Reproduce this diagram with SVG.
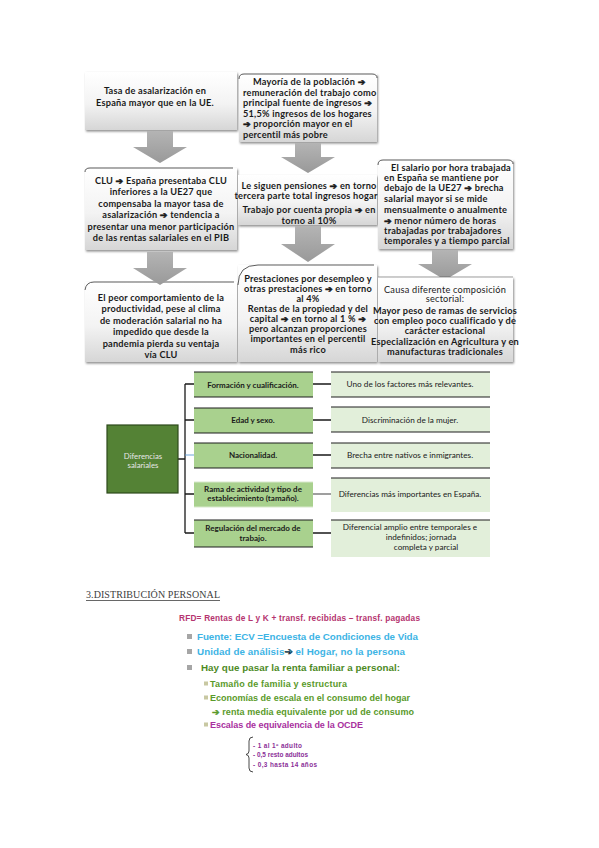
<svg xmlns="http://www.w3.org/2000/svg" width="599" height="848" viewBox="0 0 599 848">
<style>
.t{font-family:Lato,"Liberation Sans","DejaVu Sans",sans-serif;font-weight:700;font-size:9.2px;letter-spacing:0.22px;fill:#1a1a1a}
.c{text-anchor:middle}
.n{font-weight:400}
.a{font-family:"DejaVu Sans",sans-serif;font-weight:700;stroke:currentColor;stroke-width:0.5}
.t .a{stroke:#1a1a1a}
.box{fill:url(#g1);filter:url(#sh)}
.top{fill:none;stroke:#4a4a4a;stroke-width:0.9}
.arr{fill:url(#g2)}
.l2{fill:#a9d18e}
.l3{fill:#e2efda}
.bd{stroke:#1f1f1f;stroke-width:1.2}
.cn{stroke:#1a1a1a;stroke-width:1.3;fill:none}
.s2{font-family:Lato,"Liberation Sans","DejaVu Sans",sans-serif;font-weight:700;font-size:8px;fill:#1a1a1a;text-anchor:middle}
.s3{font-family:Lato,"Liberation Sans","DejaVu Sans",sans-serif;font-weight:400;font-size:8.2px;fill:#1a1a1a;text-anchor:middle}
.p{font-family:"Liberation Sans","DejaVu Sans",sans-serif;font-weight:700}
</style>
<defs>
<linearGradient id="g1" x1="0" y1="0" x2="0" y2="1">
<stop offset="0" stop-color="#ffffff"/>
<stop offset="0.55" stop-color="#f3f3f3"/>
<stop offset="1" stop-color="#d6d6d6"/>
</linearGradient>
<linearGradient id="g2" x1="0" y1="0" x2="0" y2="1">
<stop offset="0" stop-color="#b4b4b4"/>
<stop offset="1" stop-color="#999999"/>
</linearGradient>
<filter id="sh" x="-10%" y="-10%" width="120%" height="130%">
<feDropShadow dx="1" dy="1.5" stdDeviation="0.8" flood-color="#000" flood-opacity="0.45"/>
</filter>
</defs>
<rect width="599" height="848" fill="#ffffff"/>

<!-- Left column -->
<g id="boxL1">
<rect class="box" x="85" y="72" width="152" height="58"/>
<text class="t c" x="155" y="93.5">Tasa de asalarización en</text>
<text class="t c" x="155" y="105.5">España mayor que en la UE.</text>
</g>
<g id="arrowL1"><polygon class="arr" points="147,131 173,131 173,147 187,147 160,163 133,147 147,147"/></g>
<g id="boxL2">
<rect class="box" x="85" y="168" width="152" height="82"/>
<path class="top" d="M85,172 Q85,168 90,168 L233,168"/>
<text class="t c" x="161" y="183.5">CLU <tspan class="a">➔</tspan> España presentaba CLU</text>
<text class="t c" x="161" y="195">inferiores a la UE27 que</text>
<text class="t c" x="161" y="206.5">compensaba la mayor tasa de</text>
<text class="t c" x="161" y="218">asalarización <tspan class="a">➔</tspan> tendencia a</text>
<text class="t c" x="161" y="229.5">presentar una menor participación</text>
<text class="t c" x="161" y="241">de las rentas salariales en el PIB</text>
</g>
<g id="boxL3">
<rect class="box" x="85" y="282" width="152" height="80"/>
<path class="top" d="M85,290 Q86,282 94,282 L234,282"/>
<text class="t c" x="161" y="300.5">El peor comportamiento de la</text>
<text class="t c" x="161" y="312">productividad, pese al clima</text>
<text class="t c" x="161" y="323.5">de moderación salarial no ha</text>
<text class="t c" x="161" y="335">impedido que desde la</text>
<text class="t c" x="161" y="346.5">pandemia pierda su ventaja</text>
<text class="t c" x="161" y="358">vía CLU</text>
</g>
<g id="arrowL2"><polygon class="arr" points="147,252 173,252 173,268 187,268 160,285 133,268 147,268"/></g>

<!-- Middle column -->
<g id="boxM1">
<rect class="box" x="239" y="74" width="138" height="68"/>
<path class="top" d="M239,79 Q239,74 244,74 L372,74 Q377,74 377,78"/>
<text class="t" x="253" y="85">Mayoría de la población <tspan class="a">➔</tspan></text>
<text class="t" x="243" y="95.6">remuneración del trabajo como</text>
<text class="t" x="243" y="106.2">principal fuente de ingresos <tspan class="a">➔</tspan></text>
<text class="t" x="243" y="116.8">51,5% ingresos de los hogares</text>
<text class="t" x="243" y="127.4"><tspan class="a">➔</tspan> proporción mayor en el</text>
<text class="t" x="243" y="138">percentil más pobre</text>
</g>
<g id="arrowM1"><polygon class="arr" points="295,143 321,143 321,157 335,157 308,173 281,157 295,157"/></g>
<g id="boxM2">
<rect class="box" x="238" y="175" width="139" height="50"/>
<text class="t c" x="309" y="188.5">Le siguen pensiones <tspan class="a">➔</tspan> en torno</text>
<text class="t c" x="306" y="198.5">tercera parte total ingresos hogar</text>
<text class="t c" x="309" y="212.5">Trabajo por cuenta propia <tspan class="a">➔</tspan> en</text>
<text class="t c" x="309" y="223.5">torno al 10%</text>
</g>
<g id="boxM3">
<rect class="box" x="238" y="265" width="139" height="97"/>
<path class="top" d="M238,285 Q238,265 258,265 L374,265"/>
<text class="t c" x="308" y="281.5">Prestaciones por desempleo y</text>
<text class="t c" x="308" y="291.5">otras prestaciones <tspan class="a">➔</tspan> en torno</text>
<text class="t c" x="308" y="301.5">al 4%</text>
<text class="t c" x="308" y="311.5">Rentas de la propiedad y del</text>
<text class="t c" x="308" y="321.5">capital <tspan class="a">➔</tspan> en torno al 1 % <tspan class="a">➔</tspan></text>
<text class="t c" x="308" y="331.5">pero alcanzan proporciones</text>
<text class="t c" x="308" y="341.5">importantes en el percentil</text>
<text class="t c" x="308" y="352.5">más rico</text>
</g>
<g id="arrowM2"><polygon class="arr" points="295,226 321,226 321,244 335,244 308,262 281,244 295,244"/></g>

<!-- Right column -->
<g id="boxR1">
<rect class="box" x="378" y="160" width="135" height="89"/>
<path class="top" d="M378,165 Q378,160 383,160 L508,160 Q513,160 513,164"/>
<text class="t" x="391" y="170.5">El salario por hora trabajada</text>
<text class="t" x="384" y="180.5">en España se mantiene por</text>
<text class="t" x="384" y="190.5">debajo de la UE27 <tspan class="a">➔</tspan> brecha</text>
<text class="t" x="384" y="201.5">salarial mayor si se mide</text>
<text class="t" x="384" y="212.5">mensualmente o anualmente</text>
<text class="t" x="384" y="223.5"><tspan class="a">➔</tspan> menor número de horas</text>
<text class="t" x="384" y="234">trabajadas por trabajadores</text>
<text class="t" x="384" y="243.5">temporales y a tiempo parcial</text>
</g>
<g id="arrowR1"><polygon class="arr" points="432,250 458,250 458,264 472,264 445,280 418,264 432,264"/></g>
<g id="boxR3">
<rect class="box" x="378" y="277" width="135" height="85"/>
<path class="top" d="M378,277 L513,277" stroke-opacity="0.6"/>
<text class="t c n" x="445" y="292.5">Causa diferente composición</text>
<text class="t c n" x="445" y="302">sectorial:</text>
<text class="t c" x="445" y="313.5">Mayor peso de ramas de servicios</text>
<text class="t c" x="445" y="323.5">con empleo poco cualificado y de</text>
<text class="t c" x="445" y="333.5">carácter estacional</text>
<text class="t c" x="445" y="344.5">Especialización en Agricultura y en</text>
<text class="t c" x="445" y="354.5">manufacturas tradicionales</text>
</g>

<!-- Diferencias salariales -->
<g id="connectors">
<path class="cn" d="M178,459 H185 M185,384 V533 M185,384 H194 M185,420 H194 M185,494 H194 M185,533 H194"/>
<path d="M185,455 H194" stroke="#5b9bd5" stroke-width="0.9"/>
<path class="cn" d="M313,384 H331 M313,420 H331 M313,455 H331 M313,533 H331"/>
<path d="M313,494 H331" stroke="#6b6b6b" stroke-width="1.3"/>
</g>
<g id="dif">
<rect x="107" y="425" width="71" height="68" fill="#548235" stroke="#2d4a1c" stroke-width="1.2"/>
<text class="s2" x="143" y="459" style="fill:#e6e6e6;font-weight:400;font-size:7.8px">Diferencias</text>
<text class="s2" x="143" y="468" style="fill:#e6e6e6;font-weight:400;font-size:7.8px">salariales</text>
</g>
<g id="f1"><rect class="l2" x="194" y="372" width="119" height="25"/><path class="bd" d="M194,372 H313 M194,397 H313"/><text class="s2" x="253" y="387.5">Formación y cualificación.</text></g>
<g id="f2"><rect class="l2" x="194" y="408" width="119" height="25"/><path class="bd" d="M194,408 H313 M194,433 H313"/><text class="s2" x="253" y="423">Edad y sexo.</text></g>
<g id="f3"><rect class="l2" x="194" y="443" width="119" height="25"/><path class="bd" d="M194,443 H313 M194,468 H313"/><text class="s2" x="253" y="458">Nacionalidad.</text></g>
<g id="f4"><rect class="l2" x="194" y="482" width="119" height="25"/><path d="M194,482 H313 M194,507 H313" stroke="#d8e8cc" stroke-width="1"/><text class="s2" x="253" y="491.5">Rama de actividad y tipo de</text><text class="s2" x="253" y="501">establecimiento (tamaño).</text></g>
<g id="f5"><rect class="l2" x="194" y="520" width="119" height="27"/><path class="bd" d="M194,520 H313 M194,547 H313"/><text class="s2" x="253" y="530.5">Regulación del mercado de</text><text class="s2" x="253" y="540.5">trabajo.</text></g>

<g id="d1"><rect class="l3" x="331" y="372" width="159" height="25"/><path class="bd" d="M331,372 H490 M331,397 H490"/><text class="s3" x="410" y="387">Uno de los factores más relevantes.</text></g>
<g id="d2"><rect class="l3" x="331" y="407" width="159" height="25"/><path class="bd" d="M331,407 H490 M331,432 H490"/><text class="s3" x="410" y="423">Discriminación de la mujer.</text></g>
<g id="d3"><rect class="l3" x="331" y="443" width="159" height="25"/><path class="bd" d="M331,443 H490 M331,468 H490"/><text class="s3" x="410" y="458">Brecha entre nativos e inmigrantes.</text></g>
<g id="d4"><rect class="l3" x="331" y="478" width="159" height="34"/><path d="M331,478 H490" class="bd"/><text class="s3" x="410" y="497">Diferencias más importantes en España.</text></g>
<g id="d5"><rect class="l3" x="331" y="520" width="159" height="37"/><path d="M331,520 H490" class="bd"/><text class="s3" x="410" y="530">Diferencial amplio entre  temporales e</text><text class="s3" x="421" y="540">indefinidos; jornada</text><text class="s3" x="426" y="550">completa y parcial</text></g>

<!-- Section 3 -->
<g id="sec3">
<text x="86" y="598" font-family="Liberation Serif,serif" font-size="10" fill="#404040" textLength="134" lengthAdjust="spacing">3.DISTRIBUCIÓN PERSONAL</text>
<line x1="86" y1="600.5" x2="220" y2="600.5" stroke="#404040" stroke-width="0.8"/>
<text class="p" x="179" y="621" font-size="8.3" fill="#b5346f" textLength="241" lengthAdjust="spacing">RFD= Rentas de L y K + transf. recibidas – transf. pagadas</text>
<rect x="187" y="634" width="5" height="5" fill="#a6a6a6"/>
<text class="p" x="197" y="640" font-size="9.8" fill="#3db4e5" textLength="221" lengthAdjust="spacing">Fuente: ECV =Encuesta de Condiciones de Vida</text>
<rect x="187" y="649" width="5" height="5" fill="#a6a6a6"/>
<text class="p" x="197" y="655" font-size="9.8" fill="#3db4e5" textLength="208" lengthAdjust="spacing">Unidad de análisis<tspan class="a">➔</tspan> el Hogar, no la persona</text>
<rect x="187" y="665" width="5" height="5" fill="#a6a6a6"/>
<text class="p" x="201" y="671" font-size="9.8" fill="#4d8a1f" textLength="199" lengthAdjust="spacing">Hay que pasar la renta familiar a personal:</text>
<rect x="204" y="681.5" width="4" height="4" fill="#c8c8a2"/>
<text class="p" x="210" y="687" font-size="9" fill="#5a9a2a" textLength="137" lengthAdjust="spacing">Tamaño de familia y estructura</text>
<rect x="204" y="695.5" width="4" height="4" fill="#c8c8a2"/>
<text class="p" x="210" y="701" font-size="9" fill="#5a9a2a" textLength="200" lengthAdjust="spacing">Economías de escala en el consumo del hogar</text>
<text class="p" x="212" y="715" font-size="9" fill="#5a9a2a" textLength="202" lengthAdjust="spacing"><tspan class="a" style="stroke:#5a9a2a">➔</tspan> renta media equivalente por ud de consumo</text>
<rect x="204" y="722.5" width="4" height="4" fill="#c8c8a2"/>
<text class="p" x="210" y="728" font-size="9" fill="#a8309e" textLength="153" lengthAdjust="spacing">Escalas de equivalencia de la OCDE</text>
<path d="M253,737 Q249,737 249,741 L249,751 Q249,754 246,754.5 Q249,755 249,758 L249,768 Q249,772 253,772" fill="none" stroke="#333" stroke-width="0.9"/>
<text class="p" x="253" y="747.5" font-size="6.4" fill="#8b2f98" textLength="49" lengthAdjust="spacing">- 1 al 1º adulto</text>
<text class="p" x="253" y="756.5" font-size="6.4" fill="#8b2f98" textLength="55" lengthAdjust="spacing">- 0,5 resto adultos</text>
<text class="p" x="253" y="766.5" font-size="6.4" fill="#8b2f98" textLength="64" lengthAdjust="spacing">- 0,3 hasta 14 años</text>
</g>
</svg>
